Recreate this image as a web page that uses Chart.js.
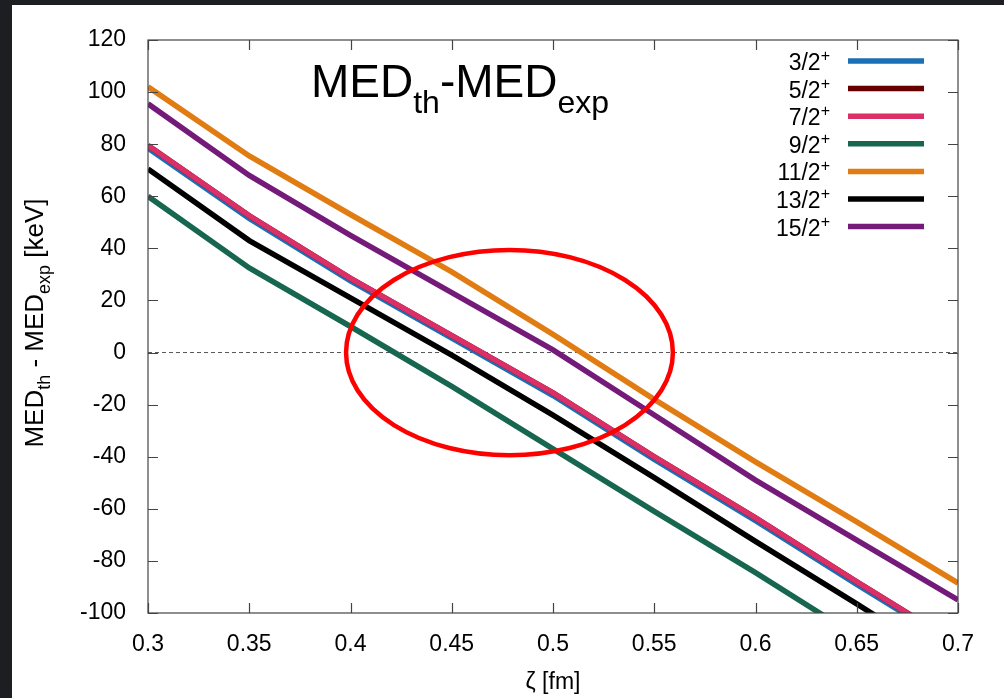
<!DOCTYPE html>
<html>
<head>
<meta charset="utf-8">
<script src="https://cdn.jsdelivr.net/npm/chart.js@4/dist/chart.umd.min.js"></script>
<style>
  html, body { margin: 0; padding: 0; background: #1c1e21; }
  #panel { position: absolute; left: 12px; top: 5px; width: 992px; height: 693px; background: #fff; }
  canvas { display: block; }
</style>
</head>
<body>
<div id="panel"><canvas id="medChart" width="992" height="693"></canvas></div>
<script>
// zeta values [fm]
const zeta = [0.3, 0.35, 0.4, 0.45, 0.5, 0.55, 0.6, 0.65, 0.7];

// MED_th - MED_exp [keV] for each state
const med3_2 = [78.5, 51.5, 27.5, 5.5, -16.5, -41, -64.5, -89, -113];
const med5_2 = [79.5, 52.5, 28.5, 6.5, -15.5, -40, -63.5, -88, -112];
const med7_2 = [79.5, 52.5, 28.5, 6.5, -15.5, -40, -63.5, -88, -112];
const med9_2 = [60, 32.5, 10, -13, -37, -61, -84.5, -109, -133];
const med11_2 = [102, 75.5, 53, 31, 7, -18, -42, -65, -88.5];
const med13_2 = [70.5, 43, 21, -1, -24, -48, -72.5, -96.5, -121];
const med15_2 = [95.5, 68, 45, 23, 1, -24, -49, -72, -95];

const stateLabels = ["3/2", "5/2", "7/2", "9/2", "11/2", "13/2", "15/2"];
const stateColors = ["#1a6fb5", "#660000", "#db2f68", "#17664f", "#e07c12", "#000000", "#741a79"];
const seriesList = [med3_2, med5_2, med7_2, med9_2, med11_2, med13_2, med15_2];

const yTicks = [-100, -80, -60, -40, -20, 0, 20, 40, 60, 80, 100, 120];

// red ellipse marking the crossing region (data units)
const ellipseCenter = [0.4785, 0];
const ellipseRadius = [0.0807, 39.4];

const FONT = "'Liberation Sans', Arial, sans-serif";

const datasets = seriesList.map((vals, i) => ({
  label: stateLabels[i],
  data: zeta.map((z, k) => ({ x: z, y: vals[k] })),
  borderColor: stateColors[i],
  borderWidth: 5.5,
  pointRadius: 0,
  tension: 0,
  order: -i, // later series drawn on top, like gnuplot
}));

// dashed zero line
datasets.push({
  label: "zero",
  data: [{ x: 0.3, y: 0 }, { x: 0.7, y: 0 }],
  borderColor: "#555",
  borderWidth: 1,
  borderDash: [4, 3],
  pointRadius: 0,
  order: 5,
});

function drawRuns(ctx, runs, x, y) {
  // runs: [text, size, dy]
  let cx = x;
  runs.forEach(([t, size, dy]) => {
    ctx.font = size + "px " + FONT;
    ctx.fillText(t, cx, y + dy);
    cx += ctx.measureText(t).width;
  });
  return cx - x;
}

function runsWidth(ctx, runs) {
  let w = 0;
  runs.forEach(([t, size]) => {
    ctx.font = size + "px " + FONT;
    w += ctx.measureText(t).width;
  });
  return w;
}

const framePlugin = {
  id: "frame",
  afterDatasetsDraw(chart) {
    const { ctx, chartArea: a, scales } = chart;
    ctx.save();

    // ellipse
    const cx = scales.x.getPixelForValue(ellipseCenter[0]);
    const cy = scales.y.getPixelForValue(ellipseCenter[1]);
    const rx = scales.x.getPixelForValue(ellipseCenter[0] + ellipseRadius[0]) - cx;
    const ry = cy - scales.y.getPixelForValue(ellipseCenter[1] + ellipseRadius[1]);
    ctx.beginPath();
    ctx.ellipse(cx, cy, rx, ry, 0, 0, Math.PI * 2);
    ctx.strokeStyle = "#ff0000";
    ctx.lineWidth = 4.5;
    ctx.stroke();

    // border box + inner ticks
    ctx.strokeStyle = "#444";
    ctx.lineWidth = 1.2;
    ctx.strokeRect(a.left, a.top, a.right - a.left, a.bottom - a.top);
    const tl = 10;
    ctx.beginPath();
    scales.x.ticks.forEach(t => {
      const px = Math.round(scales.x.getPixelForValue(t.value)) + 0.5;
      ctx.moveTo(px, a.bottom); ctx.lineTo(px, a.bottom - tl);
      ctx.moveTo(px, a.top); ctx.lineTo(px, a.top + tl);
    });
    scales.y.ticks.forEach(t => {
      const py = Math.round(scales.y.getPixelForValue(t.value)) + 0.5;
      ctx.moveTo(a.left, py); ctx.lineTo(a.left + tl, py);
      ctx.moveTo(a.right, py); ctx.lineTo(a.right - tl, py);
    });
    ctx.stroke();

    ctx.fillStyle = "#000";
    ctx.textAlign = "left";
    ctx.textBaseline = "alphabetic";

    // plot title
    drawRuns(ctx, [["MED", 46, 0], ["th", 32, 16], ["-MED", 46, 0], ["exp", 32, 16]], 299, 92);

    // legend
    const right = 818;
    stateLabels.forEach((lab, i) => {
      const rowY = 56 + i * 27.6;
      ctx.font = "16px " + FONT;
      const plusW = ctx.measureText("+").width;
      ctx.font = "23px " + FONT;
      const w = ctx.measureText(lab).width;
      ctx.fillText(lab, right - plusW - w, rowY + 9);
      ctx.font = "16px " + FONT;
      ctx.fillText("+", right - plusW, rowY);
      ctx.beginPath();
      ctx.moveTo(836, rowY); ctx.lineTo(912, rowY);
      ctx.strokeStyle = stateColors[i];
      ctx.lineWidth = 5.5;
      ctx.stroke();
    });

    // y axis title with subscripts
    const yRuns = [["MED", 26, 0], ["th", 18, 7], [" - MED", 26, 0], ["exp", 18, 7], [" [keV]", 26, 0]];
    ctx.translate(31, 318);
    ctx.rotate(-Math.PI / 2);
    const yw = runsWidth(ctx, yRuns);
    drawRuns(ctx, yRuns, -yw / 2, 0);
    ctx.restore();
  },
};

new Chart(document.getElementById("medChart"), {
  type: "line",
  data: { datasets },
  options: {
    responsive: false,
    animation: false,
    layout: { padding: { top: 35, right: 46, left: 0, bottom: 0 } },
    plugins: { legend: { display: false }, tooltip: { enabled: false } },
    scales: {
      x: {
        type: "linear",
        min: 0.3,
        max: 0.7,
        grid: { display: false },
        border: { display: false },
        ticks: {
          stepSize: 0.05,
          autoSkip: false,
          maxRotation: 0,
          padding: 10,
          color: "#000",
          font: { family: FONT, size: 23 },
          callback: v => String(Number(v.toFixed(2))),
        },
        title: {
          display: true,
          text: "ζ [fm]",
          color: "#000",
          font: { family: FONT, size: 23 },
          padding: { top: 0, bottom: 2 },
        },
        afterFit: s => { s.height = 85; },
      },
      y: {
        min: -100,
        max: 120,
        grid: { display: false },
        border: { display: false },
        afterBuildTicks: s => { s.ticks = yTicks.map(v => ({ value: v })); },
        ticks: {
          padding: 14,
          color: "#000",
          font: { family: FONT, size: 23 },
        },
        afterFit: s => { s.width = 136; },
      },
    },
  },
  plugins: [framePlugin],
});
</script>
</body>
</html>
